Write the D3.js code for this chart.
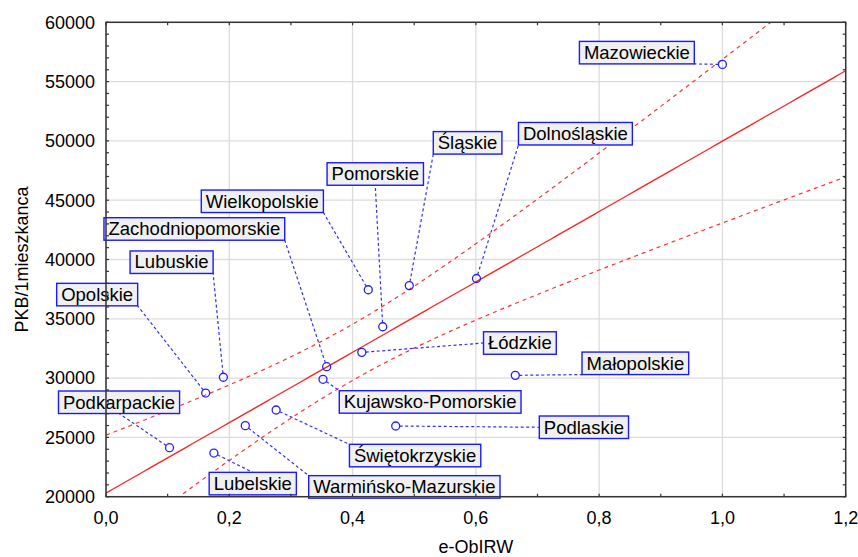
<!DOCTYPE html>
<html><head><meta charset="utf-8">
<script src="https://cdn.jsdelivr.net/npm/d3@7"></script>
<style>body{margin:0;background:#fff;} text{font-family:Arial,"Liberation Sans",sans-serif;}</style>
</head><body><svg id="c" width="858" height="557"></svg>
<script>
// ---- data ----
const regions = ["Mazowieckie","Dolnośląskie","Śląskie","Wielkopolskie","Pomorskie","Łódzkie","Zachodniopomorskie","Kujawsko-Pomorskie","Małopolskie","Podlaskie","Lubuskie","Opolskie","Podkarpackie","Lubelskie","Warmińsko-Mazurskie","Świętokrzyskie"];
const eObIRW = [1.0,0.601,0.492,0.4255,0.449,0.415,0.358,0.352,0.664,0.470,0.1904,0.1617,0.103,0.175,0.226,0.276];
const pkb = [56450,38400,37800,37450,34330,32170,30960,29900,30230,25960,30070,28740,24130,23680,25990,27310];
const xTicks = [0,0.2,0.4,0.6,0.8,1.0,1.2];
const yTicks = [20000,25000,30000,35000,40000,45000,50000,55000,60000];
const xTitle = "e-ObIRW";
const yTitle = "PKB/1mieszkanca";
// label box offsets (pixels, box top-left relative to point)
const labelDx = [-143,42,24,-167,-55.7,121.7,-222.7,16.3,66.7,143.6,-93.3,-149,-111,-4.7,63.4,73.3];
const labelDy = [-23,-156,-154,-99.7,-164,-20.6,-149,11.4,-23.3,-10,-126.3,-109.7,-56.7,19.3,50,34.3];
const tCrit = 2.1448; // t(0.975, df=14)

// ---- layout ----
const svg = d3.select("#c");
const L = 106, R = 845.7, T = 22.3, B = 496.7;
const x = d3.scaleLinear().domain([0,1.2]).range([L,R]);
const y = d3.scaleLinear().domain([20000,60000]).range([B,T]);

// gridlines
svg.append("g").selectAll("line").data(xTicks).join("line")
  .attr("x1",d=>x(d)).attr("x2",d=>x(d)).attr("y1",T).attr("y2",B)
  .attr("stroke","#dcdcdc").attr("stroke-width",1.3);
svg.append("g").selectAll("line").data(yTicks).join("line")
  .attr("x1",L).attr("x2",R).attr("y1",d=>y(d)).attr("y2",d=>y(d))
  .attr("stroke","#dcdcdc").attr("stroke-width",1.3);

// regression
const pts = regions.map((r,i)=>({name:r, x:eObIRW[i], y:pkb[i], dx:labelDx[i], dy:labelDy[i]}));
const n = pts.length;
const mx = d3.mean(pts,d=>d.x), my = d3.mean(pts,d=>d.y);
const sxx = d3.sum(pts,d=>(d.x-mx)**2), sxy = d3.sum(pts,d=>(d.x-mx)*(d.y-my));
const b1 = sxy/sxx, b0 = my - b1*mx;
const sse = d3.sum(pts,d=>(d.y-(b0+b1*d.x))**2);
const s = Math.sqrt(sse/(n-2));
const xs = d3.range(0,1.2001,0.01);
const half = xv => tCrit*s*Math.sqrt(1/n + (xv-mx)**2/sxx);

svg.append("clipPath").attr("id","clip").append("rect").attr("x",L).attr("y",T).attr("width",R-L).attr("height",B-T);
const gl = svg.append("g").attr("clip-path","url(#clip)");
const line = d3.line().x(d=>x(d[0])).y(d=>y(d[1]));
gl.append("path").attr("d",line(xs.map(v=>[v,b0+b1*v]))).attr("fill","none").attr("stroke","#ff2020").attr("stroke-width",1.3);
gl.append("path").attr("d",line(xs.map(v=>[v,b0+b1*v+half(v)]))).attr("fill","none").attr("stroke","#ff3030").attr("stroke-width",1.2).attr("stroke-dasharray","4,4");
gl.append("path").attr("d",line(xs.map(v=>[v,b0+b1*v-half(v)]))).attr("fill","none").attr("stroke","#ff3030").attr("stroke-width",1.2).attr("stroke-dasharray","4,4");

// labels + leaders
const gLead = svg.append("g"), gPts = svg.append("g"), gLab = svg.append("g");
const r0 = 4;
pts.forEach(p=>{
  const px = x(p.x), py = y(p.y);
  const g = gLab.append("g");
  const rect = g.append("rect");
  const txt = g.append("text").text(p.name).attr("font-size",18.5).attr("fill","#000");
  const tw = txt.node().getComputedTextLength();
  const w = tw + 9, h = 22.5;
  const left = px + p.dx, top = py + p.dy;
  rect.attr("x",left).attr("y",top).attr("width",w).attr("height",h)
    .attr("fill","#f0f0f0").attr("stroke","#1a1aff").attr("stroke-width",1.4);
  txt.attr("x",left+4.5).attr("y",top+17.5);
  const right = left+w, bottom = top+h;
  const ax = px < left ? left : (px > right ? right : (left+right)/2);
  const ay = py < top ? top : (py > bottom ? bottom : (top+bottom)/2);
  const len = Math.hypot(ax-px, ay-py);
  const sx = px + (ax-px)/len*r0, sy = py + (ay-py)/len*r0;
  gLead.append("line").attr("x1",sx).attr("y1",sy).attr("x2",ax).attr("y2",ay)
    .attr("stroke","#3030ff").attr("stroke-width",1.2).attr("stroke-dasharray","3,2.5");
  gPts.append("circle").attr("cx",px).attr("cy",py).attr("r",r0)
    .attr("fill","none").attr("stroke","#2020ff").attr("stroke-width",1.3);
});

// frame
svg.append("rect").attr("x",L).attr("y",T).attr("width",R-L).attr("height",B-T)
  .attr("fill","none").attr("stroke","#333").attr("stroke-width",1.5);

// minor ticks
const tickG = svg.append("g").attr("stroke","#333").attr("stroke-width",1.2);
const xMinor = d3.range(0,13).map(i=>i/10);
xMinor.forEach(v=>{
  tickG.append("line").attr("x1",x(v)).attr("x2",x(v)).attr("y1",B).attr("y2",B-3);
  tickG.append("line").attr("x1",x(v)).attr("x2",x(v)).attr("y1",T).attr("y2",T+3);
});
const yMinor = d3.range(20000,60001,1000);
yMinor.forEach(v=>{
  tickG.append("line").attr("x1",L).attr("x2",L+3).attr("y1",y(v)).attr("y2",y(v));
  tickG.append("line").attr("x1",R).attr("x2",R-3).attr("y1",y(v)).attr("y2",y(v));
});

// tick labels
const fmtX = d => d3.format(".1f")(d).replace(".",",");
svg.append("g").selectAll("text").data(xTicks).join("text")
  .attr("x",d=>x(d)).attr("y",524).attr("text-anchor","middle")
  .attr("font-size",18).attr("fill","#000").text(fmtX);
svg.append("g").selectAll("text").data(yTicks).join("text")
  .attr("x",95).attr("y",d=>y(d)).attr("dy","0.35em").attr("text-anchor","end")
  .attr("font-size",18).attr("fill","#000").text(d=>d);

// titles
svg.append("text").attr("x",(L+R)/2).attr("y",553).attr("text-anchor","middle")
  .attr("font-size",18).attr("fill","#000").text(xTitle);
svg.append("text").attr("transform",`translate(28,${(T+B)/2}) rotate(-90)`).attr("text-anchor","middle")
  .attr("font-size",18).attr("fill","#000").text(yTitle);
</script></body></html>
